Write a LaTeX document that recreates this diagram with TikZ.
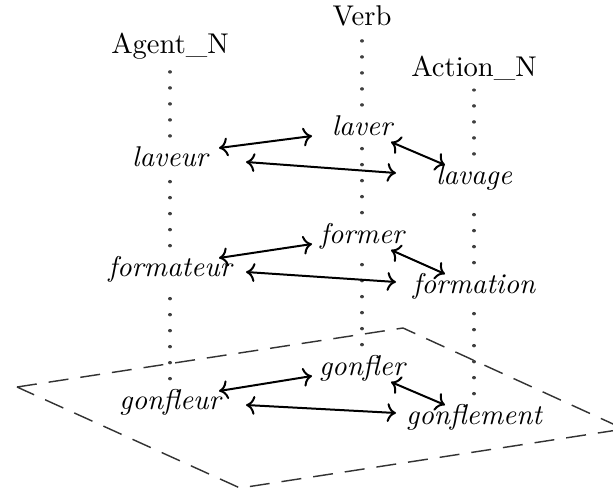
\documentclass[tikz,border=0pt]{standalone}
\usetikzlibrary{arrows.meta}

\begin{document}
\begin{tikzpicture}[
  x=0.35pt, y=-0.35pt,
  head/.style={anchor=base},
  word/.style={anchor=base, font=\itshape},
  dotline/.style={line width=1.1pt, line cap=round, dash pattern=on 0.1pt off 5.5pt, black!75},
  plane/.style={line width=0.5pt, dash pattern=on 7pt off 4.2pt, black!80},
  link/.style={<->, line width=0.7pt},
  >={To}]
\useasboundingbox (0,0) rectangle (613,492);
\draw[plane] (17,387) -- (403,328) -- (624,429) -- (240,488) -- cycle;
% column heads
\node[head] (agent) at (170,53) {Agent\_N};
\node[head] (verb) at (362,26) {Verb};
\node[head] (action) at (474,76) {Action\_N};
% words
\node[word] (laveur) at (170,166) {laveur};
\node[word] (laver) at (362,135) {laver};
\node[word] (lavage) at (474,184) {lavage};
\node[word] (formateur) at (170,276) {formateur};
\node[word] (former) at (362,243) {former};
\node[word] (formation) at (474,293) {formation};
\node[word] (gonfleur) at (170,409) {gonfleur};
\node[word] (gonfler) at (362,375) {gonfler};
\node[word] (gonflement) at (474,424) {gonflement};
% columns
\draw[dotline] (gonfleur) -- (formateur) -- (laveur) -- (agent);
\draw[dotline] (gonfler) -- (former) -- (laver) -- (verb);
\draw[dotline] (gonflement) -- (formation) -- (lavage) -- (action);
% links
\draw[link] ([shift={(49,-18)}]laveur.base) -- ([shift={(-50,1)}]laver.base);
\draw[link] ([shift={(76,-4)}]laveur.base) -- ([shift={(-78,-11)}]lavage.base);
\draw[link] ([shift={(29,7)}]laver.base) -- ([shift={(-29,-19)}]lavage.base);
\draw[link] ([shift={(49,-18)}]formateur.base) -- ([shift={(-50,1)}]former.base);
\draw[link] ([shift={(76,-4)}]formateur.base) -- ([shift={(-78,-11)}]formation.base);
\draw[link] ([shift={(29,7)}]former.base) -- ([shift={(-29,-19)}]formation.base);
\draw[link] ([shift={(49,-18)}]gonfleur.base) -- ([shift={(-50,1)}]gonfler.base);
\draw[link] ([shift={(76,-4)}]gonfleur.base) -- ([shift={(-78,-11)}]gonflement.base);
\draw[link] ([shift={(29,7)}]gonfler.base) -- ([shift={(-29,-19)}]gonflement.base);
\end{tikzpicture}
\end{document}
